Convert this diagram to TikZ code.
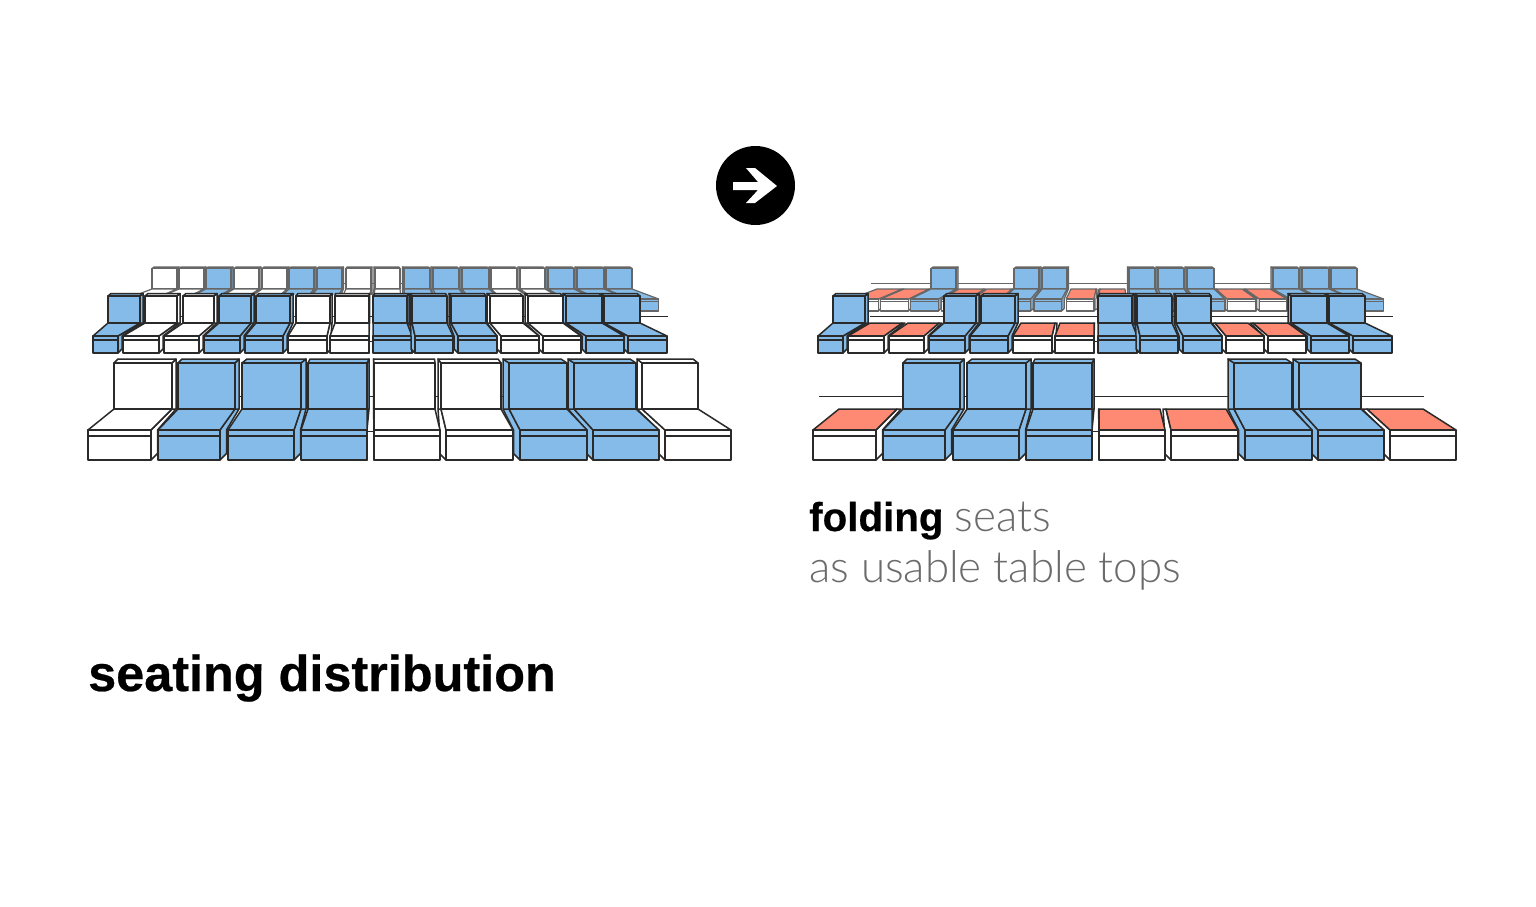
\documentclass[tikz,border=0pt]{standalone}
\usepackage{fontspec}
\setmainfont[BoldFeatures={FakeBold=0.5}]{Liberation Sans}
\newfontfamily\lightf[UprightFont={* Light}]{Lato}
\definecolor{seatblue}{HTML}{85BBE8}
\definecolor{seatred}{HTML}{FF8A74}
\definecolor{inkc}{HTML}{2A2A2A}
\definecolor{textgrey}{HTML}{6B6B6B}
\tikzset{
  ln/.style={draw=inkc,line width=1.5pt,line join=round},
  wall/.style={draw=inkc,line width=1.4pt},
  heading/.style={anchor=base west,inner sep=0pt,font=\bfseries\fontsize{50.4}{50}\selectfont,text=black},
  subbold/.style={anchor=base west,inner sep=0pt,font=\bfseries\fontsize{40.3}{41}\selectfont,text=black},
  sublight/.style={anchor=base west,inner sep=0pt,font=\lightf\fontsize{43.9}{42}\selectfont,text=textgrey}
}
\newcommand{\sitbase}[6]{%
  \ifdim #5pt<0pt
    \draw[ln,fill=#6] (#1,\rYo) -- (#1-\rE,\rYo-\rE) -- (#1-\rE,\rYf) -- (#3+#5,\rYs) -- (#3,\rYs) -- (#1,\rYf) -- cycle;
  \else
    \draw[ln,fill=#6] (#2,\rYo) -- (#2+\rE,\rYo-\rE) -- (#2+\rE,\rYf) -- (#4+#5,\rYs) -- (#4,\rYs) -- (#2,\rYf) -- cycle;
  \fi
}
\newcommand{\sitfront}[6]{%
  \draw[ln,fill=#6] (#1,\rYf) -- (#3,\rYs) -- (#4,\rYs) -- (#2,\rYf) -- cycle;
}
\newcommand{\sitbox}[3]{%
  \draw[ln,fill=#3] (#1,\rYf) rectangle (#2,\rYo);
  \draw[ln] (#1,\rYl) -- (#2,\rYl);
}
\newcommand{\sitback}[4]{%
  \ifdim #3pt<0pt
    \draw[ln,fill=#4] (#1,\rYs) -- (#1+#3,\rYs) -- (#1+#3,\rYc) -- (#1,\rYb) -- cycle;
  \else
    \draw[ln,fill=#4] (#2,\rYs) -- (#2+#3,\rYs) -- (#2+#3,\rYc) -- (#2,\rYb) -- cycle;
  \fi
  \draw[ln,fill=#4] (#1,\rYb) -- (#1+#3,\rYc) -- (#2+#3,\rYc) -- (#2,\rYb) -- cycle;
  \draw[ln,fill=#4] (#1,\rYb) rectangle (#2,\rYs);
}
\newcommand{\fullst}[6]{%
  \sitbase{#1}{#2}{#3}{#4}{#5}{#6}%
  \sitback{#3}{#4}{#5}{#6}%
  \sitfront{#1}{#2}{#3}{#4}{#5}{#6}%
  \sitbox{#1}{#2}{#6}%
}
\newcommand{\SB}[5]{\fullst{#1}{#2}{#3}{#4}{#5}{seatblue}}
\newcommand{\Wup}[5]{\fullst{#1}{#2}{#3}{#4}{#5}{white}}
\newcommand{\Wtab}[5]{%
  \sitbase{#1}{#2}{#3}{#4}{#5}{white}%
  \sitfront{#1}{#2}{#3}{#4}{#5}{seatred}%
  \sitbox{#1}{#2}{white}%
}
\newcommand{\topst}[4]{%
  \pgfmathsetmacro\fa{#1+(#1-390)*0.11}%
  \pgfmathsetmacro\fb{#2+(#2-390)*0.11}%
  #4{\fa}{\fb}{#1}{#2}{#3}%
}
\newcommand{\rowtop}{%
  \begin{scope}
    \tikzset{ln/.style={draw=inkc!72,line width=1.2pt,line join=round}}
    \def\rYc{267}\def\rYb{268.5}\def\rYs{289}\def\rYf{299}\def\rYl{301.5}\def\rYo{311}\def\rE{2.5}
    \draw[ln] (\topL,283.5) -- (545,283.5);
    \topst{152}{177}{2}\SW
    \topst{179}{204}{2}\SW
    \topst{206}{231}{2}\SB
    \topst{234}{259}{2}\SW
    \topst{262}{287}{2}\SW
    \topst{289}{314}{2}\SB
    \topst{317}{342}{1.5}\SB
    \topst{346}{371}{1}\SW
    \topst{606}{632}{-2}\SB
    \topst{577}{604}{-2}\SB
    \topst{548}{574}{-2}\SB
    \topst{520}{545}{-2}\SW
    \topst{491}{517}{-2}\SW
    \topst{462}{489}{-2}\SB
    \topst{433}{459}{-2}\SB
    \topst{404}{430}{-1.5}\SB
    \topst{375}{400}{-1}\SW
  \end{scope}
}
\newcommand{\rowmid}{%
  \begin{scope}
    \def\rYc{293.5}\def\rYb{296}\def\rYs{323}\def\rYf{336}\def\rYl{340}\def\rYo{353}\def\rE{4}
    \draw[wall] (145,316.5) -- (668,316.5);
    \draw[wall,line width=.8pt] (368,341) -- (374,341);
    \SB{93}{118}{108}{140}{3}
    \SW{123}{159}{145}{177}{3}
    \SW{164}{199}{183}{214}{3}
    \SB{204}{240}{219}{251}{3}
    \SB{245}{283}{256}{290}{3}
    \SW{288}{327}{296}{330}{2}
    {\def\rE{0}\SW{330}{369}{335}{369}{0.5}}
    \SB{373}{412}{373}{407}{2}
    \SB{628}{667}{604}{640}{-3}
    \SB{586}{624}{566}{602}{-3}
    \SW{543}{581}{528}{563}{-3}
    \SW{501}{539}{490}{523}{-3}
    \SB{458}{497}{451}{486}{-2}
    \SB{415}{453}{412}{447}{-1.5}
  \end{scope}
}
\newcommand{\rowbig}{%
  \begin{scope}
    \def\rYc{359}\def\rYb{363}\def\rYs{409}\def\rYf{430}\def\rYl{436}\def\rYo{460}\def\rE{6.5}
    \draw[wall] (\bigL,396.5) -- (699,396.5);
    \draw[wall,line width=.8pt] (367,431.5) -- (374,431.5);
    \SW{88}{151}{114}{172}{4}
    \SB{158}{220}{178}{235}{4}
    \SB{228}{294}{242}{301}{5}
    {\def\rE{0}\SB{301}{367}{308}{367}{2}}
    \SW{665}{731}{642}{698}{-5}
    \SB{593}{659}{574}{636}{-6}
    \SB{520}{587}{509}{567}{-6}
    \SW{446}{513}{441}{501}{-3}
    {\def\rE{0}\SW{374}{440}{374}{435}{-0.5}}
  \end{scope}
}
\begin{document}
\begin{tikzpicture}[x=1pt,y=-1pt]
  \useasboundingbox (0,0) rectangle (1536,907);
  \fill[white] (0,0) rectangle (1536,907);
  % left panel
  \begin{scope}
    \let\SW\Wup
    \def\topL{152}\def\bigL{114}
    \rowtop
    \fill[white] (135,295) rectangle (640,314);
    \rowmid\rowbig
  \end{scope}
  % right panel
  \begin{scope}[xshift=725pt]
    \let\SW\Wtab
    \def\topL{146}\def\bigL{94}
    \rowtop\rowmid\rowbig
  \end{scope}
  % arrow badge
  \fill[black] (755.5,185.5) circle[radius=39.5];
  \fill[white] (733,182) -- (758,182) -- (746,168) -- (755,168) -- (777,186) -- (755,203) -- (746,203) -- (758,190) -- (733,190) -- cycle;
  % texts
  \node[subbold] (foldb) at (809,531) {folding};
  \node[sublight] (folds) at ([xshift=11pt]foldb.base east) {seats};
  \node[sublight] (tops) at (809,582) {as usable table tops};
  \node[heading] (title) at (88,691) {seating distribution};
\end{tikzpicture}
\end{document}
